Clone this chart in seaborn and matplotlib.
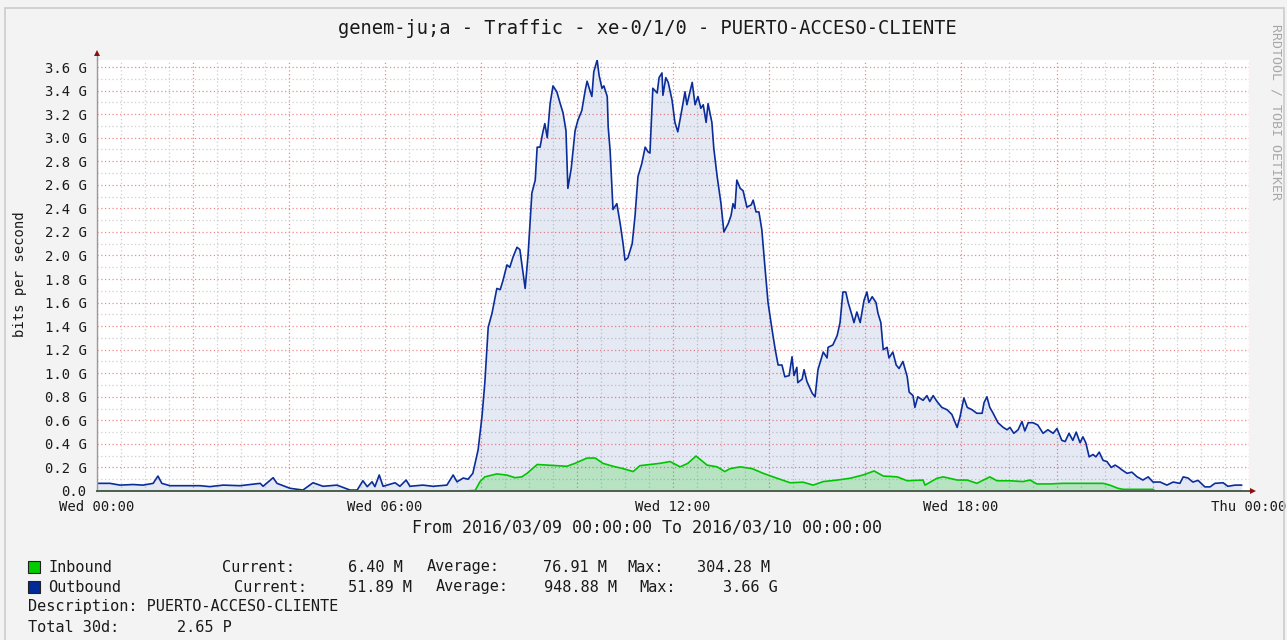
import matplotlib
matplotlib.use("Agg")
import matplotlib.pyplot as plt
import numpy as np
import pandas as pd
import seaborn as sns
from matplotlib.ticker import MultipleLocator, FuncFormatter
from matplotlib.patches import Rectangle

# ---------------- data ----------------
out_hours = [
    0.00, 0.27, 0.48, 0.75, 0.96, 1.17, 1.27, 1.35, 1.52, 1.94,
    2.15, 2.35, 2.63, 2.98, 3.40, 3.46, 3.67, 3.75, 4.02, 4.29,
    4.50, 4.71, 5.00, 5.27, 5.42, 5.54, 5.63, 5.73, 5.79, 5.88,
    5.96, 6.21, 6.31, 6.44, 6.52, 6.79, 7.00, 7.29, 7.42, 7.50,
    7.63, 7.73, 7.83, 7.94, 8.02, 8.08, 8.15, 8.23, 8.33, 8.40,
    8.46, 8.54, 8.60, 8.67, 8.75, 8.81, 8.92, 8.98, 9.06, 9.13,
    9.17, 9.23, 9.29, 9.33, 9.38, 9.44, 9.50, 9.58, 9.65, 9.71,
    9.77, 9.81, 9.88, 9.96, 10.02, 10.10, 10.17, 10.21, 10.27, 10.31,
    10.35, 10.42, 10.46, 10.52, 10.56, 10.63, 10.65, 10.69, 10.75, 10.83,
    10.90, 10.96, 11.00, 11.06, 11.15, 11.21, 11.27, 11.35, 11.42, 11.48,
    11.52, 11.58, 11.67, 11.71, 11.77, 11.79, 11.85, 11.90, 11.98, 12.04,
    12.10, 12.19, 12.25, 12.29, 12.40, 12.46, 12.52, 12.58, 12.63, 12.69,
    12.73, 12.81, 12.85, 12.92, 13.00, 13.06, 13.15, 13.21, 13.25, 13.29,
    13.33, 13.40, 13.46, 13.54, 13.63, 13.67, 13.73, 13.79, 13.85, 13.92,
    13.98, 14.06, 14.13, 14.19, 14.27, 14.33, 14.42, 14.48, 14.52, 14.58,
    14.60, 14.69, 14.73, 14.79, 14.90, 14.96, 15.02, 15.13, 15.21, 15.23,
    15.33, 15.42, 15.48, 15.54, 15.60, 15.65, 15.73, 15.77, 15.83, 15.90,
    15.98, 16.04, 16.08, 16.15, 16.23, 16.27, 16.33, 16.38, 16.46, 16.50,
    16.58, 16.65, 16.71, 16.79, 16.88, 16.92, 17.00, 17.04, 17.10, 17.21,
    17.29, 17.35, 17.42, 17.50, 17.60, 17.71, 17.81, 17.92, 17.98, 18.06,
    18.13, 18.23, 18.33, 18.44, 18.48, 18.54, 18.60, 18.67, 18.77, 18.88,
    18.96, 19.02, 19.10, 19.19, 19.27, 19.33, 19.40, 19.50, 19.60, 19.71,
    19.81, 19.92, 20.00, 20.10, 20.17, 20.25, 20.33, 20.40, 20.48, 20.54,
    20.60, 20.67, 20.75, 20.81, 20.88, 20.96, 21.04, 21.13, 21.21, 21.29,
    21.35, 21.46, 21.56, 21.67, 21.79, 21.90, 22.00, 22.15, 22.29, 22.42,
    22.56, 22.63, 22.73, 22.83, 22.94, 23.08, 23.19, 23.29, 23.46, 23.56,
    23.71, 23.85,
]
out_gbps = [
    0.065, 0.065, 0.050, 0.055, 0.050, 0.065, 0.127, 0.065, 0.045, 0.045,
    0.045, 0.037, 0.050, 0.045, 0.065, 0.040, 0.113, 0.065, 0.023, 0.008,
    0.070, 0.040, 0.050, 0.008, 0.008, 0.087, 0.037, 0.078, 0.037, 0.136,
    0.040, 0.070, 0.040, 0.093, 0.040, 0.050, 0.040, 0.050, 0.136, 0.078,
    0.110, 0.100, 0.150, 0.350, 0.630, 0.920, 1.390, 1.510, 1.720, 1.710,
    1.79, 1.92, 1.90, 1.99, 2.07, 2.05, 1.72, 2.00, 2.53, 2.64,
    2.92, 2.92, 3.05, 3.12, 3.00, 3.29, 3.44, 3.39, 3.29, 3.21,
    3.06, 2.57, 2.74, 3.06, 3.15, 3.23, 3.40, 3.48, 3.40, 3.35,
    3.56, 3.66, 3.53, 3.42, 3.44, 3.35, 3.09, 2.89, 2.39, 2.44,
    2.27, 2.10, 1.96, 1.98, 2.10, 2.34, 2.67, 2.78, 2.92, 2.88,
    2.87, 3.42, 3.38, 3.51, 3.55, 3.36, 3.51, 3.47, 3.32, 3.13,
    3.05, 3.25, 3.39, 3.28, 3.47, 3.28, 3.35, 3.25, 3.28, 3.13,
    3.29, 3.13, 2.91, 2.67, 2.44, 2.20, 2.27, 2.34, 2.44, 2.40,
    2.64, 2.57, 2.55, 2.41, 2.43, 2.47, 2.37, 2.37, 2.22, 1.88,
    1.60, 1.38, 1.20, 1.07, 1.07, 0.97, 0.98, 1.14, 0.98, 1.05,
    0.92, 0.95, 1.03, 0.93, 0.83, 0.80, 1.03, 1.18, 1.13, 1.22,
    1.24, 1.32, 1.43, 1.69, 1.69, 1.60, 1.49, 1.43, 1.52, 1.43,
    1.62, 1.69, 1.60, 1.65, 1.60, 1.51, 1.43, 1.20, 1.22, 1.13,
    1.18, 1.07, 1.04, 1.10, 0.97, 0.84, 0.81, 0.71, 0.80, 0.77,
    0.81, 0.76, 0.81, 0.76, 0.71, 0.69, 0.65, 0.54, 0.63, 0.79,
    0.71, 0.69, 0.66, 0.66, 0.75, 0.80, 0.71, 0.66, 0.58, 0.54,
    0.52, 0.54, 0.49, 0.52, 0.59, 0.51, 0.58, 0.58, 0.56, 0.49,
    0.52, 0.49, 0.53, 0.43, 0.42, 0.49, 0.43, 0.50, 0.41, 0.46,
    0.41, 0.29, 0.31, 0.29, 0.33, 0.26, 0.25, 0.20, 0.22, 0.20,
    0.18, 0.15, 0.16, 0.12, 0.093, 0.12, 0.076, 0.076, 0.050, 0.076,
    0.065, 0.12, 0.11, 0.076, 0.090, 0.035, 0.035, 0.065, 0.070, 0.040,
    0.050, 0.050,
]
in_hours = [
    0.00, 7.63, 7.88, 7.98, 8.08, 8.33, 8.54, 8.71, 8.85, 8.96,
    9.17, 9.38, 9.58, 9.79, 9.96, 10.21, 10.38, 10.54, 10.75, 10.96,
    11.17, 11.31, 11.52, 11.73, 11.94, 12.15, 12.31, 12.48, 12.71, 12.92,
    13.08, 13.19, 13.40, 13.65, 13.88, 14.17, 14.44, 14.71, 14.92, 15.13,
    15.42, 15.69, 15.96, 16.19, 16.38, 16.67, 16.88, 17.21, 17.25, 17.50,
    17.63, 17.92, 18.13, 18.33, 18.60, 18.75, 19.02, 19.29, 19.44, 19.58,
    19.85, 20.13, 20.42, 20.69, 20.96, 21.10, 21.27, 21.38, 22.00, 22.04,
    23.85,
]
in_gbps = [
    0.0, 0.0, 0.005, 0.08, 0.12, 0.145, 0.135, 0.113, 0.12, 0.15,
    0.225, 0.22, 0.215, 0.21, 0.235, 0.28, 0.28, 0.235, 0.21, 0.19,
    0.165, 0.215, 0.225, 0.235, 0.25, 0.205, 0.235, 0.297, 0.22, 0.205,
    0.165, 0.19, 0.205, 0.19, 0.15, 0.108, 0.07, 0.075, 0.05, 0.08,
    0.093, 0.108, 0.136, 0.17, 0.127, 0.12, 0.087, 0.093, 0.05, 0.108,
    0.12, 0.093, 0.093, 0.065, 0.12, 0.087, 0.087, 0.08, 0.093, 0.06,
    0.06, 0.065, 0.065, 0.065, 0.065, 0.05, 0.023, 0.014, 0.014, 0.0,
    0.0,
]

x_tick_hours = [0, 6, 12, 18, 24]
x_tick_labels = ["Wed 00:00", "Wed 06:00", "Wed 12:00", "Wed 18:00", "Thu 00:00"]

title_text = "genem-ju;a - Traffic - xe-0/1/0 - PUERTO-ACCESO-CLIENTE"
range_text = "From 2016/03/09 00:00:00 To 2016/03/10 00:00:00"
y_label = "bits per second"
watermark = "RRDTOOL / TOBI OETIKER"

legend_names = ["Inbound", "Outbound"]
legend_current = ["6.40 M", "51.89 M"]
legend_average = ["76.91 M", "948.88 M"]
legend_max = ["304.28 M", "3.66 G"]
description = "Description: PUERTO-ACCESO-CLIENTE"
total_label = "Total 30d:"
total_value = "2.65 P"

# ---------------- style ----------------
sns.set_style("white")
MONO = ["DejaVu Sans Mono", "DejaVu Sans"]
plt.rcParams["font.family"] = MONO

W, H = 1287, 640
BG = "#f3f3f3"
OUT_C = "#0b2d9a"
IN_C = "#00c400"
TXT = "#1a1a1a"

def fx(px):
    return px / W

def fy(py):
    return 1 - py / H

fig = plt.figure(figsize=(W / 100, H / 100), dpi=100, facecolor=BG)

# outer frame
fig.patches.append(Rectangle((fx(5), fy(646)), fx(1284) - fx(5), fy(8) - fy(646),
                             transform=fig.transFigure, fill=False,
                             edgecolor="#cccccc", lw=1.2))

x0, x1, ytop, ybot = 97, 1249, 60, 491
ax = fig.add_axes([fx(x0), fy(ybot), (x1 - x0) / W, (ybot - ytop) / H])
ax.set_facecolor("white")

df_out = pd.DataFrame({"hours": out_hours, "gbps": out_gbps})
df_in = pd.DataFrame({"hours": in_hours, "gbps": in_gbps})

ax.fill_between(df_out["hours"], df_out["gbps"], color="#002A97", alpha=0.10, lw=0, zorder=2)
ax.fill_between(df_in["hours"], df_in["gbps"], color="#00CF00", alpha=0.20, lw=0, zorder=3)
sns.lineplot(data=df_out, x="hours", y="gbps", ax=ax, color=OUT_C, lw=1.2,
             estimator=None, sort=False, zorder=4)
sns.lineplot(data=df_in, x="hours", y="gbps", ax=ax, color=IN_C, lw=1.2,
             estimator=None, sort=False, zorder=5)

ax.set_xlim(0, 24)
ax.set_ylim(0, 3.66)

# grid and ticks
ax.xaxis.set_major_locator(MultipleLocator(2))
ax.xaxis.set_minor_locator(MultipleLocator(0.5))
ax.yaxis.set_major_locator(MultipleLocator(0.2))
ax.yaxis.set_minor_locator(MultipleLocator(0.1))

lab_map = dict(zip(x_tick_hours, x_tick_labels))
ax.xaxis.set_major_formatter(FuncFormatter(lambda v, p: lab_map.get(int(round(v)), "") if abs(v - round(v)) < 1e-6 else ""))
ax.yaxis.set_major_formatter(FuncFormatter(lambda v, p: "0.0" if abs(v) < 1e-9 else f"{v:.1f} G"))

ax.grid(which="major", color="#f08a8a", ls=(0, (1, 2)), lw=0.9, zorder=0)
ax.grid(which="minor", color="#cfcfcf", ls=(0, (1, 2)), lw=0.9, zorder=0)
ax.set_axisbelow(True)

ax.tick_params(axis="both", which="major", length=3, width=0.8, color="#e07070",
               direction="inout", labelsize=10, labelcolor=TXT)
ax.tick_params(axis="both", which="minor", length=2, width=0.8, color="#b0b0b0",
               direction="inout")
ax.tick_params(axis="y", which="major", pad=6)
ax.tick_params(axis="x", which="major", pad=5)

for s in ["top", "right"]:
    ax.spines[s].set_visible(False)
ax.spines["left"].set_color("#9a9a9a")
ax.spines["left"].set_linewidth(1.0)
ax.spines["bottom"].set_color("#4f5f4f")
ax.spines["bottom"].set_linewidth(1.4)
ax.spines["bottom"].set_zorder(6)
ax.spines["left"].set_zorder(6)
ax.set_xlabel("")
ax.set_ylabel("")

# axis extensions + arrows
ax.plot([0, 0], [1, 1 + 6 / (ybot - ytop)], transform=ax.transAxes, color="#9a9a9a",
        lw=1.0, clip_on=False, zorder=6)
ax.plot([0], [1 + 7 / (ybot - ytop)], transform=ax.transAxes, marker="^", ms=5,
        color="#8b1010", clip_on=False, zorder=7, mew=0)
ax.plot([1, 1 + 3 / (x1 - x0)], [0, 0], transform=ax.transAxes, color="#4f5f4f",
        lw=1.4, clip_on=False, zorder=6)
ax.plot([1 + 4 / (x1 - x0)], [0], transform=ax.transAxes, marker=">", ms=5,
        color="#8b1010", clip_on=False, zorder=7, mew=0)

# texts
fig.text(fx(647), fy(29), title_text, ha="center", va="center", fontsize=13.5, color=TXT)
fig.text(fx(647), fy(527), range_text, ha="center", va="center", fontsize=12, color=TXT)
fig.text(fx(20), fy(274), y_label, ha="center", va="center", rotation=90, fontsize=10, color=TXT)
fig.text(fx(1276), fy(112), watermark, ha="center", va="center", rotation=270,
         fontsize=9.5, color="#a8a8a8")

# legend
LFS = 11
rows_y = [567, 587]
sq_colors = ["#00CC00", "#002A97"]
cur_lab_x = [222, 234]
cur_val_r = [403, 412]
avg_lab_x = [427, 436]
avg_val_r = [607, 617]
max_lab_x = [627, 639]
max_val_r = [770, 778]
for i in range(2):
    yy = rows_y[i]
    fig.patches.append(Rectangle((fx(28), fy(yy + 6)), 12 / W, 12 / H,
                                 transform=fig.transFigure, facecolor=sq_colors[i],
                                 edgecolor="#222222", lw=0.8))
    fig.text(fx(48), fy(yy), legend_names[i], ha="left", va="center", fontsize=LFS, color=TXT)
    fig.text(fx(cur_lab_x[i]), fy(yy), "Current:", ha="left", va="center", fontsize=LFS, color=TXT)
    fig.text(fx(cur_val_r[i]), fy(yy), legend_current[i], ha="right", va="center", fontsize=LFS, color=TXT)
    fig.text(fx(avg_lab_x[i]), fy(yy), "Average:", ha="left", va="center", fontsize=LFS, color=TXT)
    fig.text(fx(avg_val_r[i]), fy(yy), legend_average[i], ha="right", va="center", fontsize=LFS, color=TXT)
    fig.text(fx(max_lab_x[i]), fy(yy), "Max:", ha="left", va="center", fontsize=LFS, color=TXT)
    fig.text(fx(max_val_r[i]), fy(yy), legend_max[i], ha="right", va="center", fontsize=LFS, color=TXT)

fig.text(fx(28), fy(607), description, ha="left", va="center", fontsize=LFS, color=TXT)
fig.text(fx(28), fy(627), total_label, ha="left", va="center", fontsize=LFS, color=TXT)
fig.text(fx(232), fy(627), total_value, ha="right", va="center", fontsize=LFS, color=TXT)

fig.savefig("out.png", dpi=100, facecolor=BG)
